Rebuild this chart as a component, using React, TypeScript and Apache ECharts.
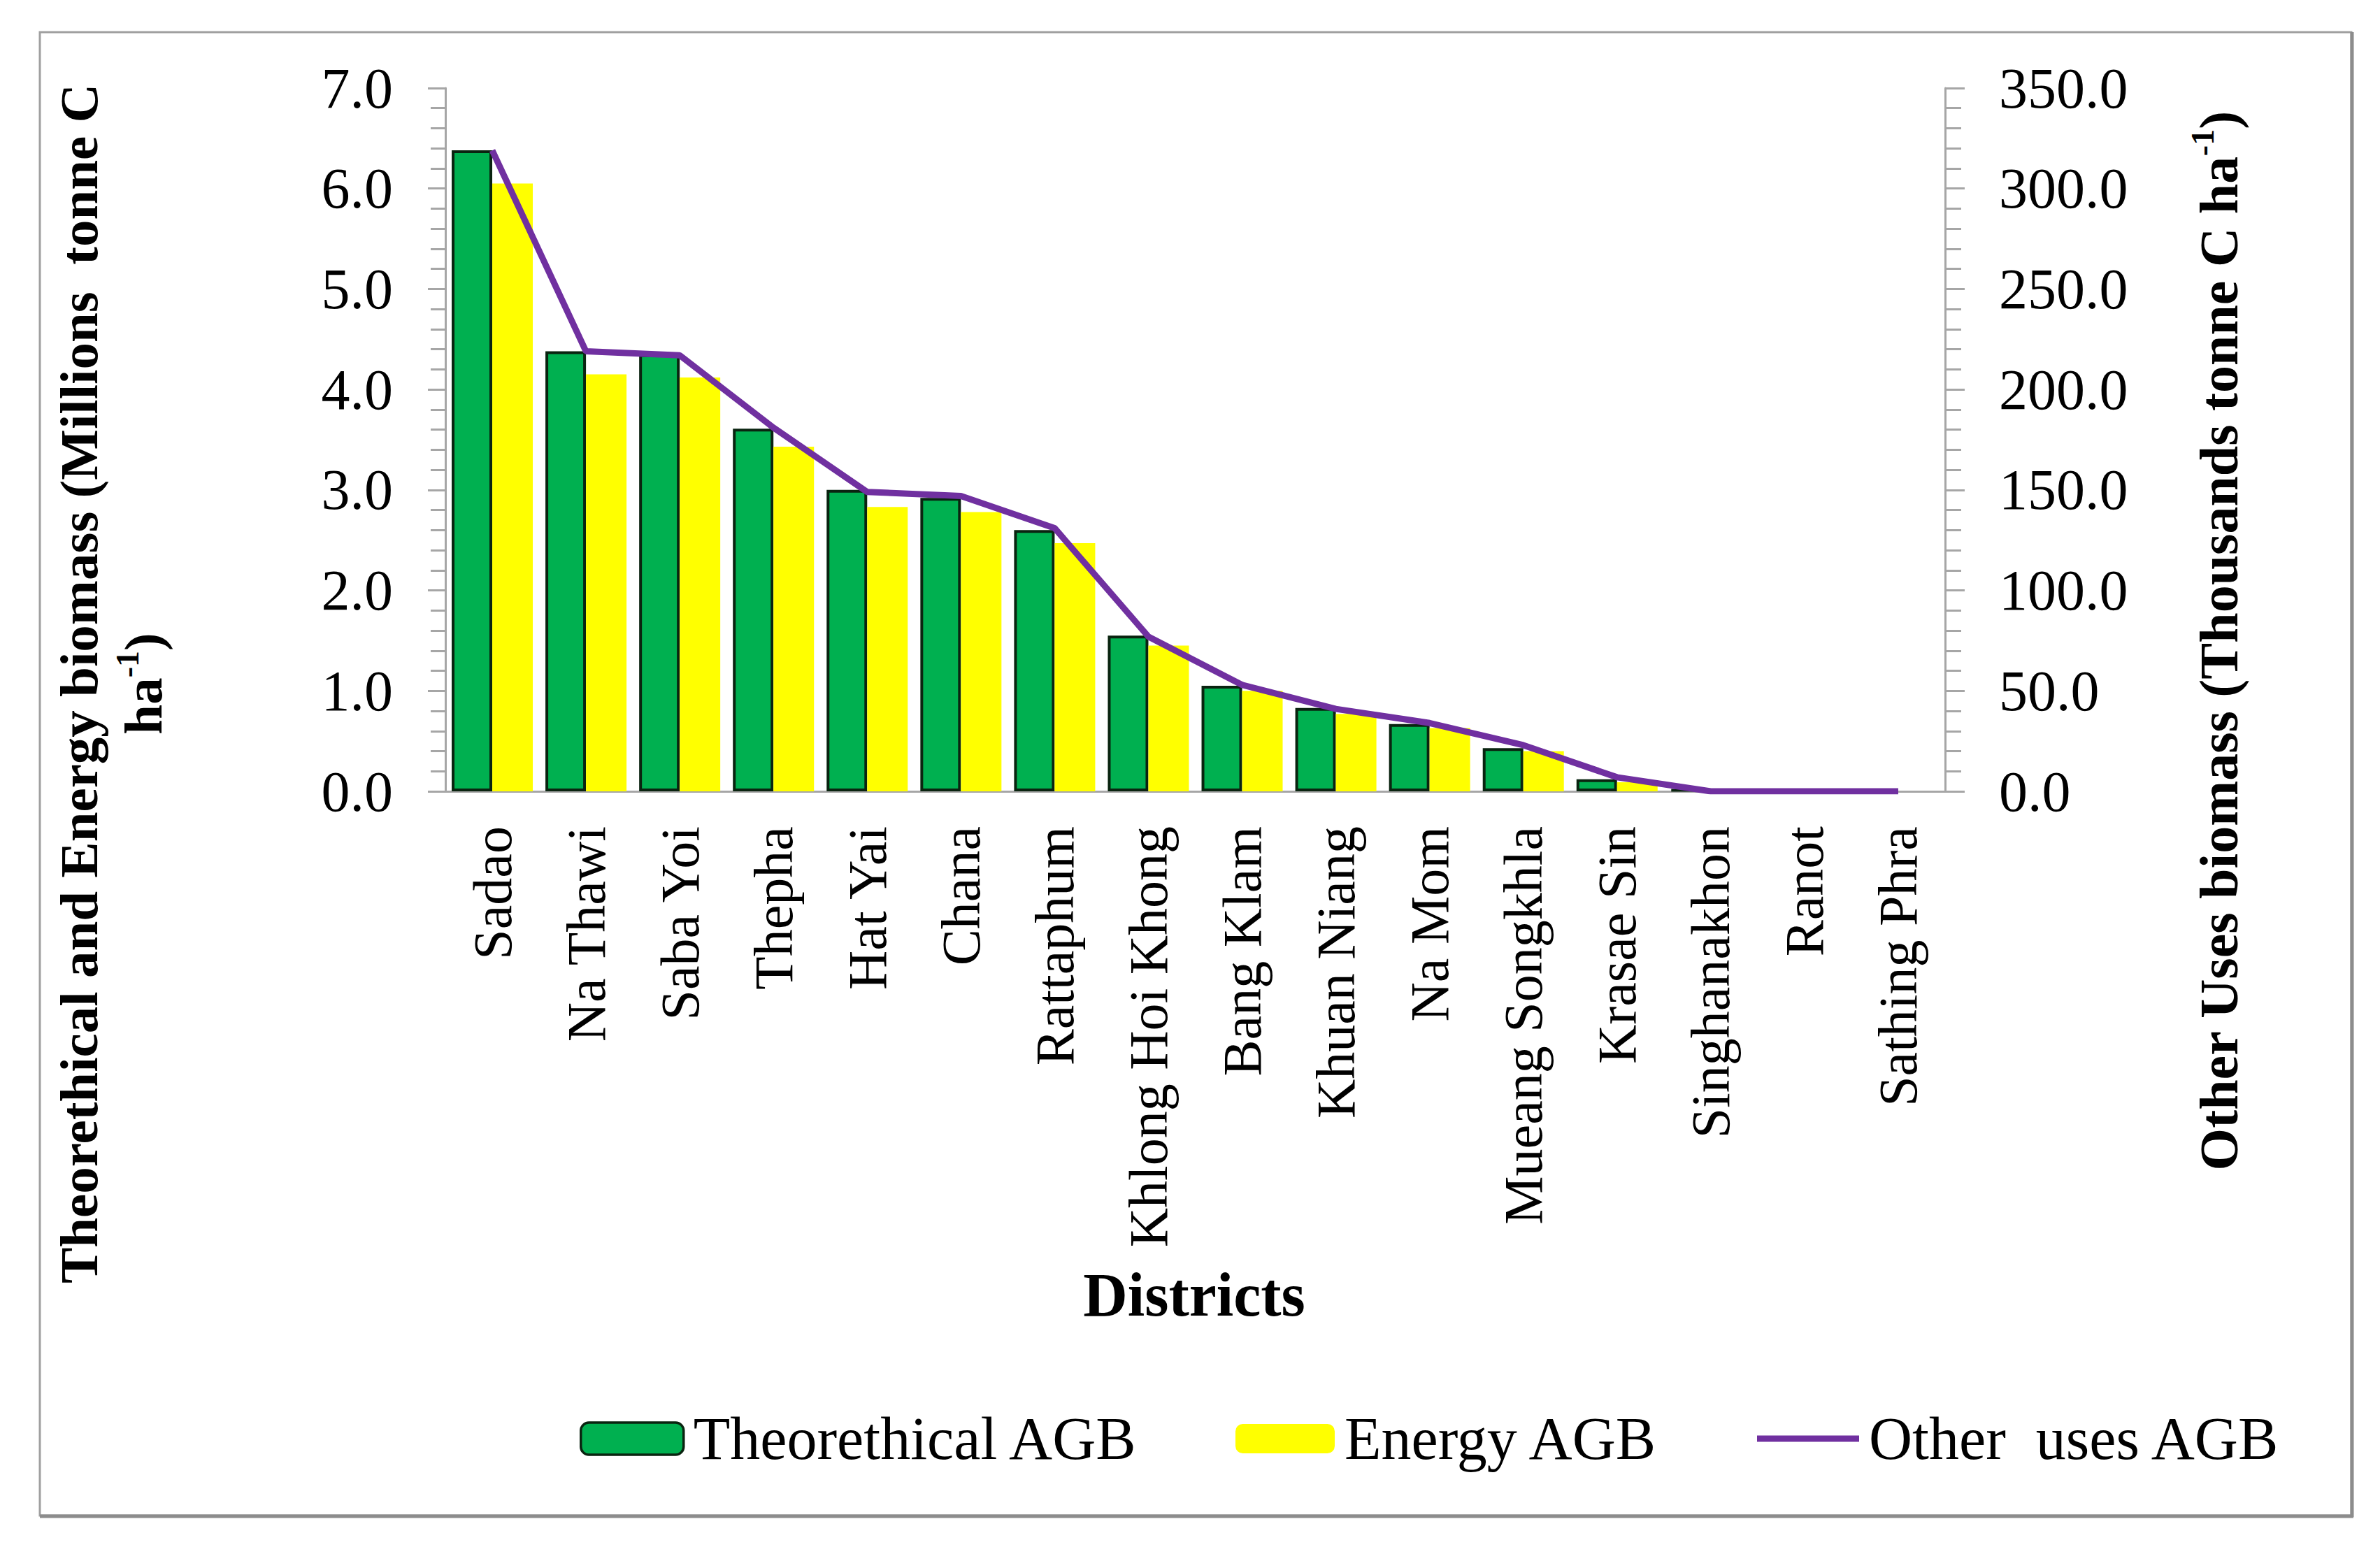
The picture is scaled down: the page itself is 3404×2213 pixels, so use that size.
import React, { useEffect, useRef } from "react";
import * as echarts from "echarts";

const districts = [
  "Sadao", "Na Thawi", "Saba Yoi", "Thepha", "Hat Yai", "Chana", "Rattaphum",
  "Khlong Hoi Khong", "Bang Klam", "Khuan Niang", "Na Mom", "Mueang Songkhla",
  "Krasae Sin", "Singhanakhon", "Ranot", "Sathing Phra",
];
const theoreticalAGB = [6.38, 4.38, 4.35, 3.61, 3.0, 2.92, 2.6, 1.55, 1.05, 0.83, 0.67, 0.43, 0.12, 0.02, 0, 0];
const energyAGB = [6.05, 4.15, 4.12, 3.43, 2.83, 2.78, 2.47, 1.45, 1.0, 0.77, 0.63, 0.4, 0.09, 0.01, 0, 0];
const otherUsesAGB = [319, 219, 217, 181, 149, 147, 131, 77, 53, 41, 34, 23, 7, 0, 0, 0];

const FONT = "'Liberation Serif', 'Times New Roman', serif";
const GREEN = "#00B050";
const YELLOW = "#FFFF00";
const PURPLE = "#7030A0";
const AXIS_GRAY = "#A6A6A6";
const BORDER_DARK = "#0A2410";

export default function App() {
  const ref = useRef<HTMLDivElement>(null);

  useEffect(() => {
    if (!ref.current) return;
    const chart = echarts.init(ref.current, null, { renderer: "svg" });
    const axisLine = { show: true, lineStyle: { color: AXIS_GRAY, width: 3 } };
    chart.setOption({
      animation: false,
      backgroundColor: "#ffffff",
      grid: { left: 637, right: 622, top: 126, bottom: 1081, containLabel: false },
      xAxis: {
        type: "category",
        data: districts,
        axisLine: { ...axisLine, onZero: false },
        axisTick: { show: false },
        axisLabel: {
          rotate: 90,
          margin: 50,
          fontSize: 78,
          fontFamily: FONT,
          color: "#000",
          interval: 0,
        },
        splitLine: { show: false },
      },
      yAxis: [
        {
          type: "value",
          min: 0,
          max: 7,
          interval: 1,
          position: "left",
          axisLine,
          axisTick: { show: true, length: 25, lineStyle: { color: AXIS_GRAY, width: 3 } },
          minorTick: { show: true, splitNumber: 5, length: 21, lineStyle: { color: AXIS_GRAY, width: 3 } },
          splitLine: { show: false },
          minorSplitLine: { show: false },
          axisLabel: {
            margin: 75,
            fontSize: 82,
            fontFamily: FONT,
            color: "#000",
            formatter: (v: number) => v.toFixed(1),
          },
        },
        {
          type: "value",
          min: 0,
          max: 350,
          interval: 50,
          position: "right",
          axisLine,
          axisTick: { show: true, length: 28, lineStyle: { color: AXIS_GRAY, width: 3 } },
          minorTick: { show: true, splitNumber: 5, length: 23, lineStyle: { color: AXIS_GRAY, width: 3 } },
          splitLine: { show: false },
          minorSplitLine: { show: false },
          axisLabel: {
            margin: 77,
            fontSize: 82,
            fontFamily: FONT,
            color: "#000",
            formatter: (v: number) => v.toFixed(1),
          },
        },
      ],
      legend: [
        {
          data: ["Theorethical AGB"],
          left: 829,
          top: 2015,
          padding: 0,
          itemWidth: 147,
          itemHeight: 46,
          itemStyle: { borderColor: BORDER_DARK, borderWidth: 3.5 },
          textStyle: { fontSize: 86, fontFamily: FONT, color: "#000", padding: [0, 0, 0, 9] },
        },
        {
          data: ["Energy AGB"],
          left: 1767,
          top: 2015,
          padding: 0,
          itemWidth: 142,
          itemHeight: 42,
          itemStyle: { borderWidth: 0 },
          textStyle: { fontSize: 86, fontFamily: FONT, color: "#000", padding: [0, 0, 0, 9] },
        },
        {
          data: [{ name: "Other  uses AGB", icon: "rect" }],
          left: 2513,
          top: 2015,
          padding: 0,
          itemWidth: 146,
          itemHeight: 9,
          itemStyle: { borderWidth: 0 },
          textStyle: { fontSize: 86, fontFamily: FONT, color: "#000", padding: [0, 0, 0, 9] },
        },
      ],
      series: [
        {
          name: "Theorethical AGB",
          type: "bar",
          data: theoreticalAGB,
          barWidth: 58,
          barGap: "0%",
          itemStyle: { color: GREEN, borderColor: BORDER_DARK, borderWidth: 4 },
          z: 2,
        },
        {
          name: "Energy AGB",
          type: "bar",
          data: energyAGB,
          barWidth: 58,
          barGap: "0%",
          itemStyle: { color: YELLOW, borderWidth: 0 },
          z: 2,
        },
        {
          name: "Other  uses AGB",
          type: "line",
          yAxisIndex: 1,
          data: otherUsesAGB,
          symbol: "none",
          showSymbol: false,
          lineStyle: { color: PURPLE, width: 9 },
          itemStyle: { color: PURPLE },
          z: 3,
        },
      ],
      graphic: [
        {
          type: "rect",
          shape: { x: 57, y: 46, width: 3306, height: 2122 },
          style: { fill: "none", stroke: "#A0A0A0", lineWidth: 3 },
          z: 0,
        },
        {
          type: "line",
          shape: { x1: 3364, y1: 46, x2: 3364, y2: 2170 },
          style: { stroke: "#8C8C8C", lineWidth: 5 },
        },
        {
          type: "line",
          shape: { x1: 57, y1: 2169, x2: 3366, y2: 2169 },
          style: { stroke: "#8C8C8C", lineWidth: 5 },
        },
        {
          type: "text",
          x: 159,
          y: 978,
          rotation: Math.PI / 2,
          style: {
            text: "Theorethical and Energy biomass (Millions  tonne C\nha{s|-1})",
            fontSize: 77,
            fontWeight: "bold",
            fontFamily: FONT,
            fill: "#000",
            align: "center",
            verticalAlign: "middle",
            lineHeight: 92,
            rich: {
              s: { fontSize: 46, fontWeight: "bold", fontFamily: FONT, lineHeight: 46, verticalAlign: "top", fill: "#000" },
            },
          },
        },
        {
          type: "text",
          x: 3173,
          y: 917,
          rotation: Math.PI / 2,
          style: {
            text: "Other Uses biomass (Thousands tonne C ha{s|-1})",
            fontSize: 78,
            fontWeight: "bold",
            fontFamily: FONT,
            fill: "#000",
            align: "center",
            verticalAlign: "middle",
            lineHeight: 92,
            rich: {
              s: { fontSize: 46, fontWeight: "bold", fontFamily: FONT, lineHeight: 46, verticalAlign: "top", fill: "#000" },
            },
          },
        },
        {
          type: "text",
          x: 1708,
          y: 1852,
          style: {
            text: "Districts",
            fontSize: 88,
            fontWeight: "bold",
            fontFamily: FONT,
            fill: "#000",
            align: "center",
            verticalAlign: "middle",
          },
        },
      ],
    });
    return () => chart.dispose();
  }, []);

  return (
    <div
      ref={ref}
      style={{ position: "fixed", left: 0, top: 0, width: "3404px", height: "2213px", background: "#fff" }}
    />
  );
}
